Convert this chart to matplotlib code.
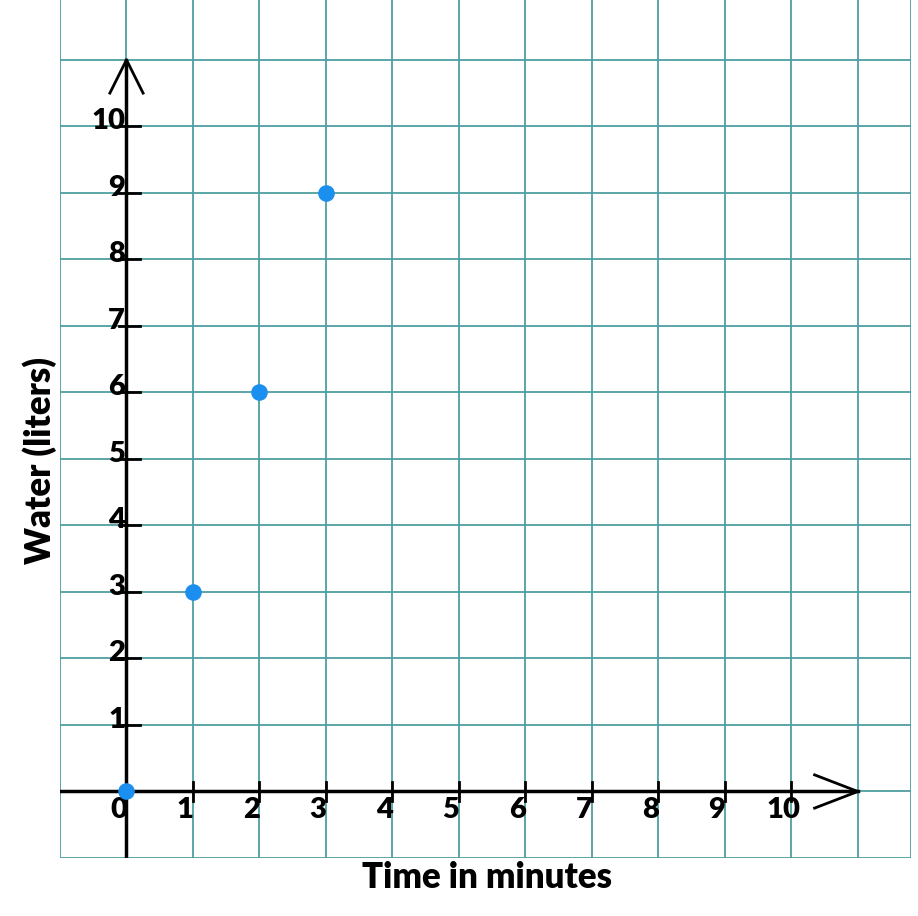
import matplotlib
matplotlib.use("Agg")
import matplotlib.pyplot as plt

minutes = [0, 1, 2, 3]
liters = [0, 3, 6, 9]
x_ticks = list(range(0, 11))
y_ticks = list(range(1, 11))

fig = plt.figure(figsize=(9.18, 9.16), dpi=100)
ax = fig.add_axes([60/918, (916-858)/916, (911-60)/918, 858/916])
ax.set_xlim(-1, 11.8)
ax.set_ylim(-1, 11.9)
for s in ax.spines.values():
    s.set_visible(False)
ax.set_xticks([]); ax.set_yticks([])
grid_c = "#4e9fa0"
for v in range(-1, 12):
    ax.axvline(v, color=grid_c, lw=1.3, zorder=1)
    ax.axhline(v, color=grid_c, lw=1.3, zorder=1)
ax.axvline(11.8, color=grid_c, lw=1.3, zorder=1)

ax.plot([0, 0], [-1, 11], color="black", lw=2.5, zorder=3)
ax.plot([-1, 11], [0, 0], color="black", lw=2.5, zorder=3)
ax.plot([-0.25, 0, 0.25], [10.5, 11, 10.5], color="black", lw=2, zorder=3)
ax.plot([10.35, 11, 10.35], [0.25, 0, -0.25], color="black", lw=2, zorder=3)

fp = dict(family="Lato", weight="heavy", fontsize=21)
for t in x_ticks:
    if t > 0:
        ax.plot([t, t], [-0.15, 0.15], color="black", lw=2, zorder=3)
    ax.text(t - 0.12, -0.08, str(t), ha="center", va="top", **fp)
for t in y_ticks:
    ax.plot([-0.12, 0.2], [t, t], color="black", lw=2, zorder=3)
    ax.text(-0.02, t - 0.12, str(t), ha="right", va="bottom", **fp)

ax.scatter(minutes, liters, s=120, color="#1a8fef", zorder=4)
fig.text(487/918, 1 - 878/916, "Time in minutes", ha="center", va="center",
         family="Lato", weight="heavy", fontsize=25)
fig.text(40/918, 1 - 460/916, "Water (liters)", ha="center", va="center",
         rotation=90, family="Lato", weight="heavy", fontsize=25)
fig.savefig("out.png", dpi=100)
